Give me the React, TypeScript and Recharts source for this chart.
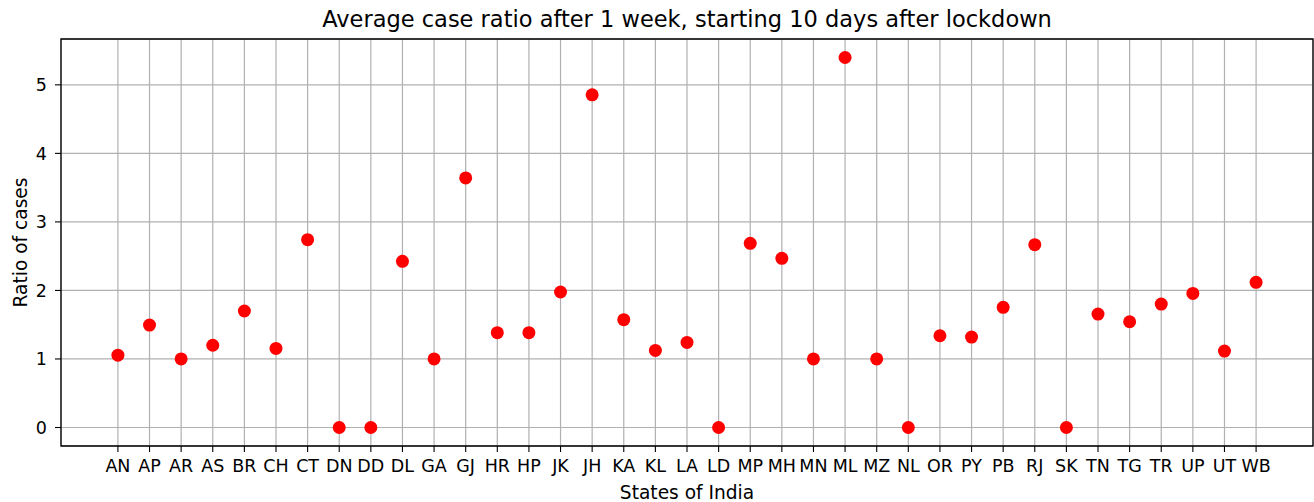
import React from "react";
import {
  ScatterChart,
  Scatter,
  XAxis,
  YAxis,
  CartesianGrid,
  ReferenceArea,
} from "recharts";

const STATES = [
  "AN", "AP", "AR", "AS", "BR", "CH", "CT", "DN", "DD", "DL", "GA", "GJ",
  "HR", "HP", "JK", "JH", "KA", "KL", "LA", "LD", "MP", "MH", "MN", "ML",
  "MZ", "NL", "OR", "PY", "PB", "RJ", "SK", "TN", "TG", "TR", "UP", "UT", "WB",
];

const RATIOS = [
  1.056, 1.495, 1.0, 1.2, 1.7, 1.154, 2.741, 0, 0, 2.425, 1.0, 3.642,
  1.383, 1.383, 1.977, 4.854, 1.573, 1.125, 1.241, 0, 2.687, 2.468, 1.0, 5.399,
  1.0, 0, 1.339, 1.319, 1.753, 2.668, 0, 1.655, 1.543, 1.801, 1.957, 1.115, 2.118,
];

const Y_TICKS = [0, 1, 2, 3, 4, 5];

const TITLE = "Average case ratio after 1 week, starting 10 days after lockdown";
const X_LABEL = "States of India";
const Y_LABEL = "Ratio of cases";

const data = STATES.map((s, i) => ({ x: i, y: RATIOS[i], name: s }));
const xTicks = STATES.map((_, i) => i);

const X_DOMAIN: [number, number] = [-1.8, STATES.length - 1 + 1.8];
const Y_DOMAIN: [number, number] = [-0.27, 5.669];

const FONT = "DejaVu Sans, sans-serif";

const Dot = (props: any) => (
  <circle cx={props.cx} cy={props.cy} r={6.5} fill="#ff0000" />
);

export default function App() {
  return (
    <div style={{ position: "absolute", left: 0, top: 0, width: 1314, height: 502, background: "#fff" }}>
      <ScatterChart
        width={1314}
        height={502}
        margin={{ top: 39, right: 1, bottom: 0, left: 0 }}
      >
        <CartesianGrid stroke="#b0b0b0" strokeWidth={1.2} />
        <XAxis
          type="number"
          dataKey="x"
          domain={X_DOMAIN}
          allowDataOverflow
          ticks={xTicks}
          interval={0}
          tickFormatter={(v: number) => STATES[v] ?? ""}
          height={56}
          tickSize={6}
          tickMargin={8}
          axisLine={false}
          tickLine={{ stroke: "#000", strokeWidth: 1.1 }}
          tick={{ fill: "#000", fontSize: 17.5, fontFamily: FONT }}
        />
        <YAxis
          type="number"
          dataKey="y"
          domain={Y_DOMAIN}
          allowDataOverflow
          ticks={Y_TICKS}
          interval={0}
          width={61}
          tickSize={6}
          tickMargin={8}
          axisLine={false}
          tickLine={{ stroke: "#000", strokeWidth: 1.1 }}
          tick={{ fill: "#000", fontSize: 17.5, fontFamily: FONT }}
        />
        <Scatter data={data} isAnimationActive={false} shape={Dot} />
        <ReferenceArea
          x1={X_DOMAIN[0]}
          x2={X_DOMAIN[1]}
          y1={Y_DOMAIN[0]}
          y2={Y_DOMAIN[1]}
          fill="none"
          fillOpacity={0}
          stroke="#000"
          strokeWidth={1.3}
          ifOverflow="visible"
        />
      </ScatterChart>
      <svg
        width={1314}
        height={502}
        style={{ position: "absolute", left: 0, top: 0, pointerEvents: "none" }}
      >
        <text x={687} y={27} textAnchor="middle" fontSize={22.5} fontFamily={FONT} fill="#000">
          {TITLE}
        </text>
        <text x={687} y={498.5} textAnchor="middle" fontSize={18.6} fontFamily={FONT} fill="#000">
          {X_LABEL}
        </text>
        <text
          x={26.5}
          y={242.5}
          textAnchor="middle"
          fontSize={18.6}
          fontFamily={FONT}
          fill="#000"
          transform="rotate(-90, 26.5, 242.5)"
        >
          {Y_LABEL}
        </text>
      </svg>
    </div>
  );
}
